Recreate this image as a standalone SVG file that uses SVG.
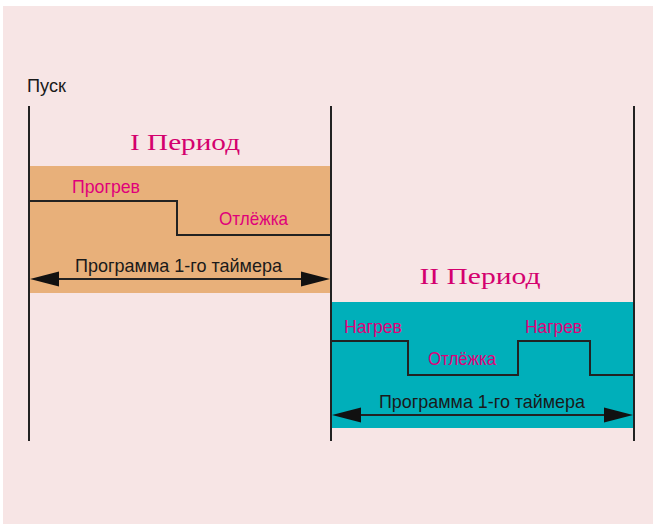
<svg xmlns="http://www.w3.org/2000/svg" width="653" height="524" viewBox="0 0 653 524">
<style>
.lbl{font-family:"Liberation Sans",Arial,sans-serif;font-size:19px;fill:#E0007A}
.blk{font-family:"Liberation Sans",Arial,sans-serif;font-size:19px;fill:#1a1a1a}
.per{font-family:"Liberation Serif","Times New Roman",serif;font-size:24px;fill:#D4006E}
.vl{stroke:#222;stroke-width:2;fill:none}
.st{stroke:#222;stroke-width:2;fill:none}
.ar{fill:#111}
</style>
<rect x="0" y="0" width="653" height="524" fill="#ffffff"/>
<rect x="3" y="6" width="650" height="518" fill="#F7E5E5"/>
<g id="period1">
<rect x="29" y="166" width="302" height="127" fill="#E8B07A"/>
<text class="per" x="185" y="150" text-anchor="middle" textLength="110" lengthAdjust="spacingAndGlyphs">I Период</text>
<text class="lbl" x="72" y="193" textLength="68" lengthAdjust="spacingAndGlyphs">Прогрев</text>
<text class="lbl" x="219" y="225" textLength="69" lengthAdjust="spacingAndGlyphs">Отлёжка</text>
<text class="blk" x="75" y="272" textLength="207" lengthAdjust="spacingAndGlyphs">Программа 1-го таймера</text>
</g>
<g id="period2">
<rect x="331" y="302" width="303" height="126" fill="#00AFBA"/>
<text class="per" x="480" y="284" text-anchor="middle" textLength="121" lengthAdjust="spacingAndGlyphs">II Период</text>
<text class="lbl" x="344" y="333" textLength="58" lengthAdjust="spacingAndGlyphs">Нагрев</text>
<text class="lbl" x="428" y="365" textLength="68" lengthAdjust="spacingAndGlyphs">Отлёжка</text>
<text class="lbl" x="525" y="333" textLength="57" lengthAdjust="spacingAndGlyphs">Нагрев</text>
<text class="blk" x="379" y="408" textLength="206" lengthAdjust="spacingAndGlyphs">Программа 1-го таймера</text>
</g>
<g id="start">
<text class="blk" x="27" y="92" textLength="39" lengthAdjust="spacingAndGlyphs">Пуск</text>
</g>
<g id="connectors">
<line class="vl" x1="29" y1="106" x2="29" y2="441"/>
<line class="vl" x1="331" y1="106" x2="331" y2="441"/>
<line class="vl" x1="634" y1="106" x2="634" y2="441"/>
<polyline class="st" points="29,201 177,201 177,235 331,235"/>
<polyline class="st" points="331,341 408,341 408,375 518,375 518,341 590,341 590,375 634,375"/>
<line class="st" x1="50" y1="279" x2="310" y2="279"/>
<polygon class="ar" points="30,279 59,271.5 59,286.5"/>
<polygon class="ar" points="330,279 301,271.5 301,286.5"/>
<line class="st" x1="352" y1="415" x2="613" y2="415"/>
<polygon class="ar" points="332,415 361,407.5 361,422.5"/>
<polygon class="ar" points="633,415 604,407.5 604,422.5"/>
</g>
</svg>
